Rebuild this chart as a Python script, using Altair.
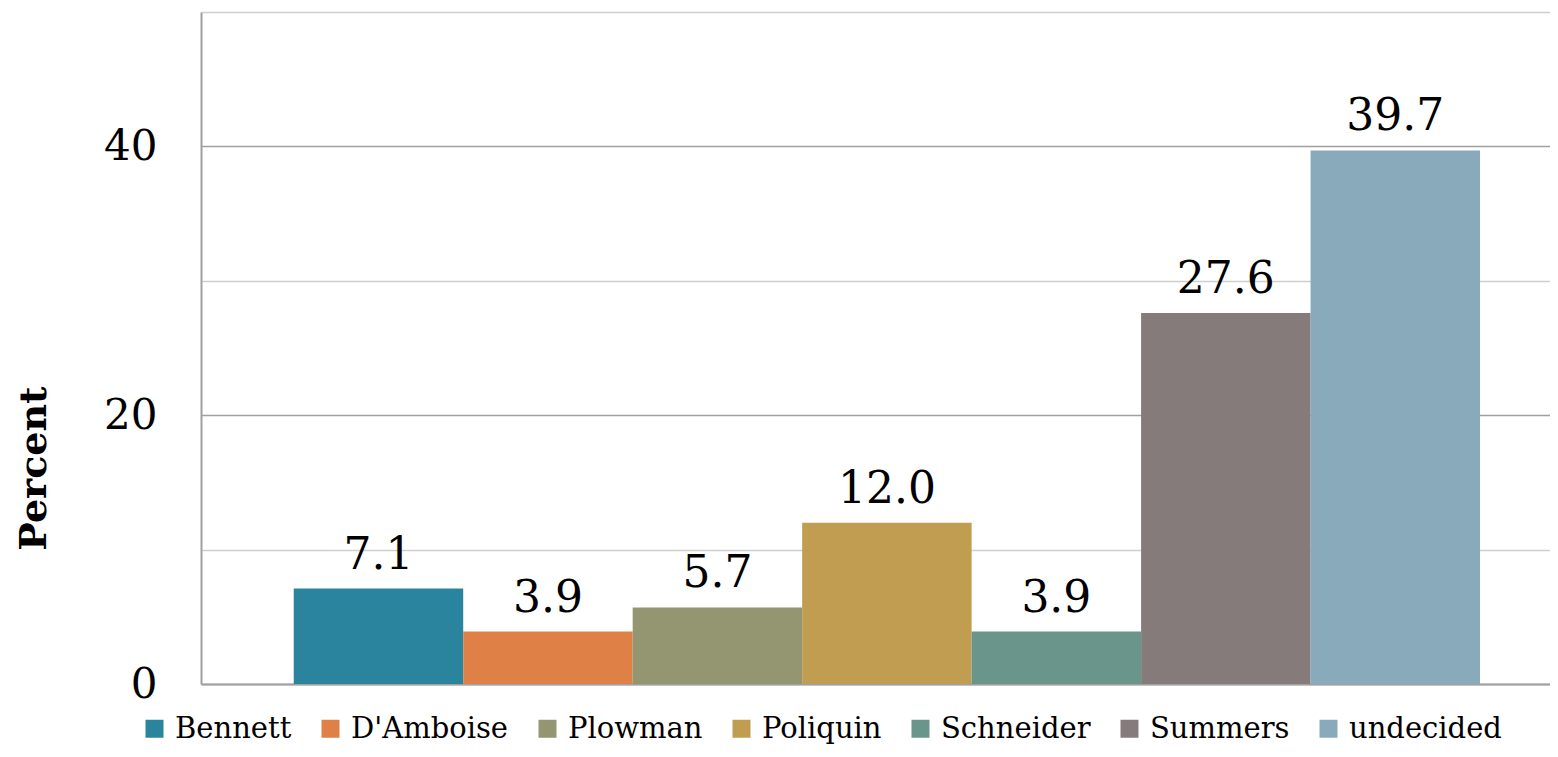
import altair as alt
import pandas as pd

candidates = ["Bennett", "D'Amboise", "Plowman", "Poliquin", "Schneider", "Summers", "undecided"]
percents = [7.1, 3.9, 5.7, 12.0, 3.9, 27.6, 39.7]
colors = ["#2B849E", "#DF8047", "#939670", "#C09D50", "#6A958B", "#867B7B", "#89AABB"]
y_ticks = [0, 10, 20, 30, 40, 50]

df = pd.DataFrame({"candidate": candidates, "percent": percents})
FONT = "DejaVu Serif"

x = alt.X(
    "candidate:N",
    sort=candidates,
    scale=alt.Scale(paddingInner=0, paddingOuter=0.48, align=0.57),
    axis=alt.Axis(labels=False, ticks=False, title=None, domainColor="#a0a0a0",
                  domainWidth=2, grid=False),
)
y = alt.Y(
    "percent:Q",
    scale=alt.Scale(domain=[0, 50], nice=False),
    axis=alt.Axis(
        values=y_ticks,
        labelExpr="datum.value % 20 === 0 ? datum.label : ''",
        ticks=False,
        domainColor="#a0a0a0",
        domainWidth=2,
        gridColor={"condition": {"test": "datum.value % 20 === 0", "value": "#a0a0a0"},
                   "value": "#cfcfcf"},
        gridWidth=1.5,
        labelFont=FONT,
        labelFontSize=42,
        labelColor="black",
        labelPadding=44,
        title="Percent",
        titleFont=FONT,
        titleFontSize=38,
        titleFontWeight="bold",
        titleColor="black",
        titlePadding=50,
        titleY=456,
    ),
)

bars = alt.Chart(df).mark_bar().encode(
    x=x,
    y=y,
    color=alt.Color(
        "candidate:N",
        sort=candidates,
        scale=alt.Scale(domain=candidates, range=colors),
        legend=alt.Legend(
            title=None,
            orient="none",
            direction="horizontal",
            legendX=-61,
            legendY=702,
            symbolType="square",
            symbolSize=324,
            symbolStrokeWidth=0,
            labelFont=FONT,
            labelFontSize=29,
            labelColor="black",
            labelOffset=6,
            labelLimit=400,
            columnPadding=24,
        ),
    ),
)

labels = alt.Chart(df).mark_text(
    baseline="alphabetic", dy=-20, font=FONT, fontSize=44, color="black"
).encode(
    x=x,
    y=alt.Y("percent:Q"),
    text=alt.Text("percent:Q", format=".1f"),
)

chart = (bars + labels).properties(
    width=1349,
    height=672,
    padding={"left": 193, "top": 4, "right": 0, "bottom": 65},
    autosize=alt.AutoSizeParams(type="none"),
).configure_view(stroke=None)

chart.save("out.html", embed_options={"renderer": "svg", "actions": False})
